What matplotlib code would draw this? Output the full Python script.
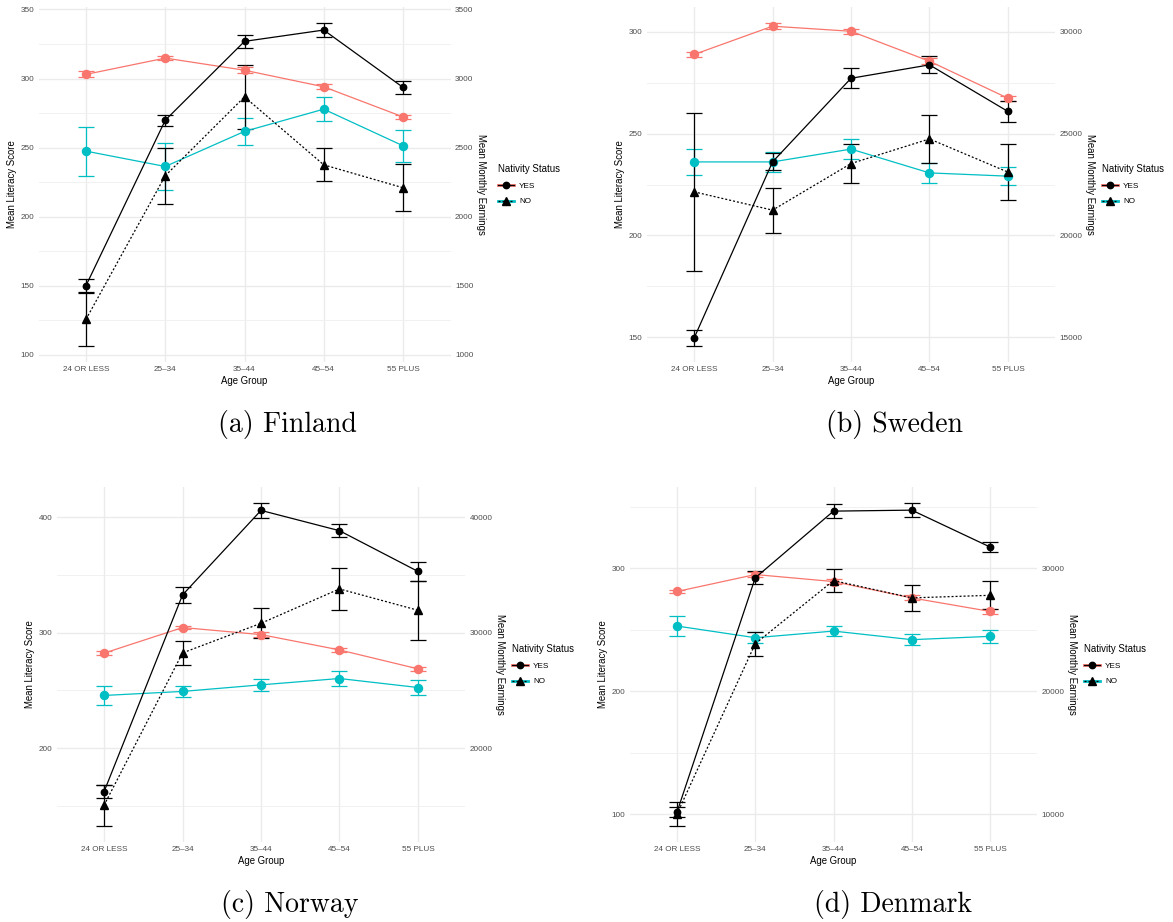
# Age profiles of literacy and earnings by nativity status, four Nordic countries
import numpy as np
import matplotlib.pyplot as plt
from matplotlib.lines import Line2D

plt.rcParams['font.family'] = ['Liberation Sans', 'DejaVu Sans']

age_groups = ['24 OR LESS', '25–34', '35–44', '45–54', '55 PLUS']

# Finland (earnings axis = literacy x 10)
fin_lit_yes = [303.0, 314.8, 306.0, 294.0, 272.2]
fin_lit_yes_err = [2.2, 1.5, 2.0, 1.7, 1.7]
fin_lit_no = [247.4, 236.3, 261.7, 277.8, 251.3]
fin_lit_no_err = [17.7, 17.0, 10.0, 8.7, 11.7]
fin_earn_yes = [1501, 2698, 3269, 3351, 2936]
fin_earn_yes_err = [48, 40, 45, 50, 47]
fin_earn_no = [1257, 2296, 2867, 2375, 2209]
fin_earn_no_err = [193, 203, 230, 120, 171]

# Sweden (earnings axis = literacy x 100)
swe_lit_yes = [288.9, 302.8, 300.3, 285.6, 267.4]
swe_lit_yes_err = [1.3, 1.5, 1.3, 1.5, 1.2]
swe_lit_no = [236.1, 236.1, 242.4, 230.7, 229.1]
swe_lit_no_err = [6.5, 4.9, 5.0, 4.9, 4.4]
swe_earn_yes = [14950, 23610, 27720, 28380, 26090]
swe_earn_yes_err = [380, 420, 500, 420, 500]
swe_earn_no = [22140, 21240, 23530, 24740, 23110]
swe_earn_no_err = [3870, 1110, 950, 1190, 1360]

# Norway (earnings axis = literacy x 100)
nor_lit_yes = [282.3, 304.5, 298.4, 285.1, 268.7]
nor_lit_yes_err = [1.5, 1.5, 2.0, 1.5, 1.5]
nor_lit_no = [245.6, 249.1, 254.8, 260.3, 252.5]
nor_lit_no_err = [8.1, 4.9, 5.3, 6.5, 6.3]
nor_earn_yes = [16220, 33280, 40610, 38850, 35320]
nor_earn_yes_err = [550, 680, 630, 590, 850]
nor_earn_no = [15040, 28250, 30820, 33800, 31950]
nor_earn_no_err = [1790, 1070, 1300, 1820, 2570]

# Denmark (earnings axis = literacy x 100)
den_lit_yes = [281.1, 294.9, 289.2, 275.9, 264.9]
den_lit_yes_err = [1.5, 2.0, 2.0, 2.0, 2.0]
den_lit_no = [253.0, 243.5, 248.9, 241.9, 244.6]
den_lit_no_err = [8.0, 4.5, 3.9, 4.6, 5.3]
den_earn_yes = [10150, 29220, 34650, 34730, 31730]
den_earn_yes_err = [420, 540, 570, 570, 420]
den_earn_no = [10000, 23860, 29000, 27590, 27800]
den_earn_no_err = [960, 990, 970, 1080, 1150]

RED = '#F8766D'
CYAN = '#00BFC4'
W, H = 1173, 922

# panel rectangles in pixels: left, top, width, height; caption baseline position
panels = [
    ('(a) Finland', (38.5, 7, 412, 355), 10, 50,
     fin_lit_yes, fin_lit_yes_err, fin_lit_no, fin_lit_no_err,
     fin_earn_yes, fin_earn_yes_err, fin_earn_no, fin_earn_no_err, (287, 431.5)),
    ('(b) Sweden', (647, 7, 408, 355), 100, 50,
     swe_lit_yes, swe_lit_yes_err, swe_lit_no, swe_lit_no_err,
     swe_earn_yes, swe_earn_yes_err, swe_earn_no, swe_earn_no_err, (895, 431.5)),
    ('(c) Norway', (57, 487, 408, 355), 100, 100,
     nor_lit_yes, nor_lit_yes_err, nor_lit_no, nor_lit_no_err,
     nor_earn_yes, nor_earn_yes_err, nor_earn_no, nor_earn_no_err, (290, 911.5)),
    ('(d) Denmark', (630, 487, 407, 355), 100, 100,
     den_lit_yes, den_lit_yes_err, den_lit_no, den_lit_no_err,
     den_earn_yes, den_earn_yes_err, den_earn_no, den_earn_no_err, (893, 911.5)),
]

fig = plt.figure(figsize=(W / 100, H / 100), dpi=100)
x = np.arange(len(age_groups))

for (caption, (l, t, w, h), k, step, ly, lye, ln, lne, ey, eye, en, ene, cxy) in panels:
    ax = fig.add_axes([l / W, 1 - (t + h) / H, w / W, h / H])
    ey_s = np.array(ey) / k
    eye_s = np.array(eye) / k
    en_s = np.array(en) / k
    ene_s = np.array(ene) / k

    common = dict(lw=0.9, elinewidth=0.9, capsize=5.5, capthick=0.9)
    ax.errorbar(x, ly, yerr=lye, color=RED, marker='o', ms=5.8, **common)
    ax.errorbar(x, ln, yerr=lne, color=CYAN, marker='o', ms=5.8, **common)
    ax.errorbar(x, ey_s, yerr=eye_s, color='black', marker='o', ms=4.6, **common)
    eb = ax.errorbar(x, en_s, yerr=ene_s, color='black', marker='^', ms=5.2, **common)
    eb[0].set_linestyle((0, (1.6, 1.6)))

    lows = np.concatenate([np.subtract(ly, lye), np.subtract(ln, lne), ey_s - eye_s, en_s - ene_s])
    highs = np.concatenate([np.add(ly, lye), np.add(ln, lne), ey_s + eye_s, en_s + ene_s])
    lo, hi = lows.min(), highs.max()
    pad = 0.05 * (hi - lo)
    lo, hi = lo - pad, hi + pad
    ax.set_ylim(lo, hi)
    ax.set_xlim(-0.6, len(age_groups) - 0.4)

    # only ticks that fall inside the panel
    major = np.arange(np.ceil(lo / step) * step, hi, step)
    minor = np.arange(np.ceil(lo / (step / 2)) * (step / 2), hi, step / 2)
    minor = minor[~np.isin(minor, major)]
    ax.set_yticks(major)
    ax.set_yticks(minor, minor=True)
    ax.set_yticklabels([f'{v:.0f}' for v in major])
    ax.set_xticks(x)
    ax.set_xticklabels(age_groups)
    ax.grid(which='major', color='#EBEBEB', lw=1.0)
    ax.grid(which='minor', axis='y', color='#EFEFEF', lw=0.6)
    ax.set_axisbelow(True)
    for s in ax.spines.values():
        s.set_visible(False)
    ax.tick_params(which='both', length=0, labelsize=5.9, colors='#4D4D4D', pad=3.2)
    ax.set_xlabel('Age Group', fontsize=6.9, labelpad=1.5)
    ax.set_ylabel('Mean Literacy Score', fontsize=6.9, labelpad=2.5)

    sec = ax.secondary_yaxis('right', functions=(lambda v, k=k: v * k, lambda v, k=k: v / k))
    sec.set_yticks(major * k)
    sec.set_yticklabels([f'{v * k:.0f}' for v in major])
    sec.tick_params(length=0, labelsize=5.9, colors='#4D4D4D', pad=3.2)
    for s in sec.spines.values():
        s.set_visible(False)
    sec.set_ylabel('Mean Monthly Earnings', fontsize=6.9, rotation=270, va='bottom', labelpad=2)

    h_yes = (Line2D([], [], color=RED, lw=2.0),
             Line2D([], [], color='black', lw=0.9, marker='o', ms=4.6))
    h_no = (Line2D([], [], color=CYAN, lw=2.0),
            Line2D([], [], color='black', lw=0.9, ls=(0, (1.6, 1.6)), marker='^', ms=5.2))
    leg = ax.legend([h_yes, h_no], ['YES', 'NO'], title='Nativity Status',
                    loc='center left', bbox_to_anchor=(1.115, 0.5), frameon=False,
                    fontsize=5.9, title_fontsize=6.9, handlelength=2.0,
                    handletextpad=0.6, labelspacing=1.0, borderpad=0, borderaxespad=0)
    leg._legend_box.align = 'left'

    fig.text(cxy[0] / W, 1 - cxy[1] / H, caption, family='cmr10', fontsize=20,
             ha='center', va='baseline')

fig.savefig('out.png', dpi=100)
